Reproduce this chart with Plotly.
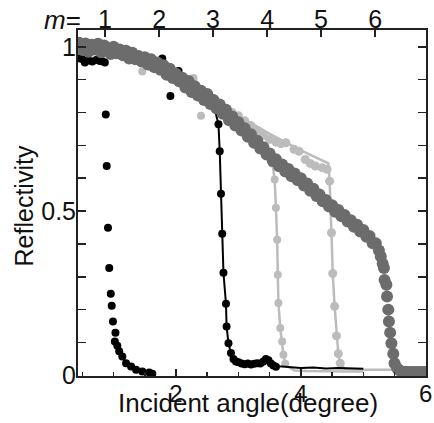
import plotly.graph_objects as go

# ---------------- data ----------------
# top axis: mode number m and its incident angle (degree)
m_labels = ["1", "2", "3", "4", "5", "6"]
m_angle = [0.86, 1.73, 2.59, 3.46, 4.32, 5.19]

# series A: black dots, cut-off near 0.9 deg
a_x = [0.45, 0.50, 0.54, 0.60, 0.66, 0.72, 0.78, 0.82, 0.86, 0.875, 0.89, 0.91, 0.93, 0.955,
       0.97, 0.99, 1.02, 1.03, 1.06, 1.09, 1.14, 1.20, 1.28, 1.36, 1.46, 1.57, 1.62]
a_y = [0.965, 0.962, 0.952, 0.958, 0.955, 0.96, 0.957, 0.956, 0.952, 0.794, 0.637, 0.449, 0.327, 0.248,
       0.212, 0.164, 0.103, 0.13, 0.09, 0.073, 0.057, 0.037, 0.027, 0.017, 0.012, 0.009, 0.005]

# series B: stray black dots
b_x = [1.78, 1.91, 2.04]
b_y = [0.964, 0.85, 0.926]

# series C: black line + dots, cut-off near 2.7 deg
c_line_x = [0.45, 0.8, 1.2, 1.6, 2.0, 2.3, 2.55, 2.62, 2.68, 2.70, 2.72, 2.74, 2.76, 2.80, 2.81,
            2.84, 2.88, 2.95, 3.05, 3.15, 3.25, 3.35, 3.42, 3.46, 3.50, 3.55, 3.65, 3.8, 4.0,
            4.2, 4.4, 4.6, 4.8, 5.0]
c_line_y = [0.995, 0.985, 0.975, 0.95, 0.905, 0.865, 0.83, 0.81, 0.764, 0.682, 0.553, 0.431, 0.312,
            0.218, 0.149, 0.098, 0.068, 0.05, 0.04, 0.038, 0.035, 0.037, 0.045, 0.05, 0.04, 0.033,
            0.028, 0.025, 0.022, 0.024, 0.021, 0.022, 0.02, 0.02]
c_x = [2.68, 2.70, 2.72, 2.74, 2.76, 2.80, 2.81, 2.84, 2.88, 2.92, 2.96, 3.00, 3.05, 3.10, 3.15,
       3.20, 3.25, 3.30, 3.35, 3.40, 3.44, 3.48, 3.52, 3.56, 3.60]
c_y = [0.764, 0.682, 0.553, 0.431, 0.312, 0.218, 0.149, 0.098, 0.068, 0.05, 0.042, 0.04, 0.036,
       0.034, 0.036, 0.033, 0.035, 0.037, 0.036, 0.042, 0.05, 0.046, 0.036, 0.03, 0.026]

# series D: light gray, cut-off near 3.6 deg
d_line_x = [0.45, 0.8, 1.2, 1.6, 2.0, 2.4, 2.8, 3.2, 3.5, 3.54, 3.58, 3.60, 3.62, 3.63, 3.64,
            3.67, 3.70, 3.72, 3.76, 3.9, 4.1, 4.3, 4.5, 4.7, 4.9, 5.0]
d_line_y = [0.99, 0.985, 0.975, 0.95, 0.9, 0.85, 0.79, 0.72, 0.665, 0.652, 0.596, 0.51, 0.413,
            0.306, 0.22, 0.144, 0.103, 0.0625, 0.03, 0.015, 0.013, 0.012, 0.012, 0.012, 0.012, 0.012]
d_x = [1.46, 2.28, 2.40, 3.54, 3.58, 3.60, 3.62, 3.63, 3.64, 3.67, 3.70, 3.72, 3.75]
d_y = [0.925, 0.905, 0.79, 0.645, 0.596, 0.51, 0.413, 0.306, 0.22, 0.144, 0.103, 0.0625, 0.035]

# series E: light gray, cut-off near 4.5 deg
e_line_x = [2.6, 3.0, 3.5, 4.0, 4.44, 4.46, 4.49, 4.51, 4.54, 4.57, 4.60, 4.63, 4.7, 5.0, 5.46]
e_line_y = [0.83, 0.79, 0.735, 0.685, 0.645, 0.591, 0.434, 0.31, 0.21, 0.12, 0.066, 0.037, 0.02,
            0.017, 0.017]
e_x = [2.9, 3.0, 3.1, 3.2, 3.3, 3.4, 3.5, 3.6, 3.68, 3.76, 3.89, 3.97, 4.07, 4.15, 4.23, 4.34, 4.42,
       4.46, 4.49, 4.51, 4.54, 4.57, 4.60, 4.63]
e_y = [0.80, 0.79, 0.775, 0.76, 0.745, 0.73, 0.718, 0.71, 0.705, 0.708, 0.688, 0.682, 0.657, 0.645,
       0.637, 0.632, 0.627, 0.591, 0.434, 0.31, 0.21, 0.12, 0.066, 0.037]

# series F: dark gray, cut-off near 5.4 deg
f_x = [0.45, 0.50, 0.55, 0.60, 0.65, 0.70, 0.75, 0.80, 0.85, 0.90, 0.95, 1.00, 1.05, 1.10, 1.15,
       1.20, 1.25, 1.30, 1.35, 1.40, 1.45, 1.50, 1.55, 1.60, 1.65, 1.70, 1.75, 1.80, 1.85, 1.90,
       1.95, 2.00, 2.05, 2.10, 2.15, 2.20, 2.25, 2.30, 2.35, 2.40, 2.45, 2.50, 2.55, 2.60, 2.65,
       2.70, 2.75, 2.80, 2.85, 2.90, 2.95, 3.00, 3.05, 3.10, 3.15, 3.20, 3.25, 3.30, 3.35, 3.40,
       3.45, 3.50, 3.55, 3.60, 3.65, 3.70, 3.75, 3.80, 3.85, 3.90, 3.95, 4.00, 4.05, 4.10, 4.15,
       4.20, 4.25, 4.30, 4.35, 4.40, 4.45, 4.50, 4.55, 4.60, 4.65, 4.70, 4.75, 4.80, 4.85, 4.90,
       4.95, 5.00, 5.05, 5.10, 5.15, 5.20, 5.25, 5.28, 5.31, 5.33, 5.34, 5.37, 5.38, 5.40, 5.41,
       5.43, 5.45, 5.48, 5.50, 5.54, 5.58, 5.62, 5.66, 5.70, 5.74, 5.78, 5.82, 5.86, 5.90, 5.94,
       5.98]
f_y = [1.012, 0.990, 1.010, 0.985, 1.006, 0.992, 1.009, 0.983, 1.004, 0.988, 0.978, 1.000, 0.980,
       0.992, 0.974, 0.988, 0.964, 0.982, 0.962, 0.972, 0.955, 0.968, 0.946, 0.962, 0.938, 0.952,
       0.930, 0.944, 0.915, 0.933, 0.905, 0.918, 0.895, 0.906, 0.876, 0.896, 0.862, 0.880, 0.852,
       0.866, 0.838, 0.856, 0.826, 0.838, 0.812, 0.824, 0.796, 0.808, 0.776, 0.788, 0.760, 0.770,
       0.745, 0.752, 0.726, 0.734, 0.708, 0.714, 0.690, 0.694, 0.672, 0.675, 0.652, 0.658, 0.636,
       0.642, 0.620, 0.628, 0.606, 0.614, 0.594, 0.600, 0.578, 0.584, 0.562, 0.568, 0.546, 0.550,
       0.530, 0.534, 0.514, 0.518, 0.498, 0.503, 0.484, 0.488, 0.468, 0.472, 0.452, 0.458, 0.438,
       0.442, 0.422, 0.424, 0.402, 0.402, 0.380, 0.362, 0.340, 0.327, 0.290, 0.276, 0.240, 0.200,
       0.164, 0.130, 0.098, 0.066, 0.037, 0.022, 0.015, 0.012, 0.010, 0.010, 0.010, 0.010, 0.010,
       0.010, 0.010, 0.010, 0.010]

x_ticks = [2, 4, 6]
x_minor = [0.5, 1, 1.5, 2.5, 3, 3.5, 4.5, 5, 5.5]
y_ticks = [0, 0.5, 1]
y_ticktext = ["0", "0.5", "1"]

# ---------------- figure ----------------
BLACK = "#000000"
LIGHT = "#bcbcbc"
DARK = "#6c6c6c"
FONT = "Liberation Sans, Arial, sans-serif"
FS = 25

fig = go.Figure()
fig.add_trace(go.Scatter(x=e_line_x, y=e_line_y, mode="lines", line=dict(color=LIGHT, width=2.5)))
fig.add_trace(go.Scatter(x=e_x, y=e_y, mode="markers", marker=dict(color=LIGHT, size=9)))
fig.add_trace(go.Scatter(x=d_line_x, y=d_line_y, mode="lines", line=dict(color=LIGHT, width=2.5)))
fig.add_trace(go.Scatter(x=d_x, y=d_y, mode="markers", marker=dict(color=LIGHT, size=8)))
fig.add_trace(go.Scatter(x=c_line_x, y=c_line_y, mode="lines", line=dict(color=BLACK, width=2)))
fig.add_trace(go.Scatter(x=c_x, y=c_y, mode="markers", marker=dict(color=BLACK, size=8)))
fig.add_trace(go.Scatter(x=a_x, y=a_y, mode="markers", marker=dict(color=BLACK, size=8)))
fig.add_trace(go.Scatter(x=b_x, y=b_y, mode="markers", marker=dict(color=BLACK, size=8)))
fig.add_trace(go.Scatter(x=f_x, y=f_y, mode="markers", marker=dict(color=DARK, size=12)))
# carrier for the top (m) axis
fig.add_trace(go.Scatter(x=[m_angle[0]], y=[None], xaxis="x2", mode="markers",
                         hoverinfo="skip", marker=dict(opacity=0)))

axis_common = dict(showgrid=False, zeroline=False, linecolor="#222", tickcolor="#222",
                   automargin=False,
                   tickfont=dict(family=FONT, size=FS, color="#111"))

X_RANGE = [0.43, 6.004]

fig.update_layout(
    width=434, height=423,
    margin=dict(l=78, r=8, t=30, b=47),
    plot_bgcolor="white", paper_bgcolor="white",
    showlegend=False,
    xaxis=dict(range=X_RANGE, tickvals=x_ticks, ticks="inside", ticklen=7, tickwidth=1.5,
               showline=True, linewidth=2, mirror=True, ticklabelstandoff=-5,
               ticklabeloverflow="allow",
               minor=dict(tickvals=x_minor, ticks="inside", ticklen=4, tickwidth=1.5, tickcolor="#222"),
               **{**axis_common, "tickfont": dict(family=FONT, size=24, color="#111")}),
    xaxis2=dict(range=X_RANGE, overlaying="x", side="top", tickvals=m_angle, ticktext=m_labels,
                ticks="inside", ticklen=7, tickwidth=1.5, showline=False, ticklabelstandoff=-4,
                ticklabeloverflow="allow", **axis_common),
    yaxis=dict(range=[-0.002, 1.051], tickvals=y_ticks, ticktext=y_ticktext, ticks="inside",
               ticklen=8, tickwidth=1.5, showline=True, linewidth=2, mirror="ticks",
               ticklabelstandoff=-5, ticklabeloverflow="allow",
               minor=dict(dtick=0.1, ticks="inside", ticklen=8, tickwidth=1.5, tickcolor="#222"),
               **axis_common),
    annotations=[
        dict(text="Incident angle(degree)", xref="paper", yref="paper", x=0.489, y=0,
             xanchor="center", yanchor="middle", yshift=-27, showarrow=False,
             font=dict(family=FONT, size=26, color="#111")),
        dict(text="Reflectivity", xref="paper", yref="paper", x=0, y=0.49, textangle=-90,
             xanchor="center", yanchor="middle", xshift=-54, showarrow=False,
             font=dict(family=FONT, size=FS, color="#111")),
        dict(text="<i>m</i>=", xref="paper", yref="paper", x=0, y=1, xanchor="center",
             yanchor="middle", xshift=-16, yshift=10, showarrow=False,
             font=dict(family=FONT, size=FS + 1, color="#111")),
    ],
)

# the page body's default 8px margin would push the figure off the window edge
fig.write_html("out.html", config={"displayModeBar": False, "staticPlot": True},
               post_script="document.body.style.margin='0';")
